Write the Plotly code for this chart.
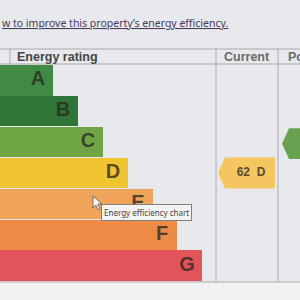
import plotly.graph_objects as go

# ---- data ----
ratings = ["A", "B", "C", "D", "E", "F", "G"]
band_lengths = [53, 78, 103, 128, 153, 177, 202]
band_colors = ["#3f8b46", "#2f7538", "#6fa545", "#f1c431", "#f0a35a", "#ec8a46", "#e1545a"]
current_value = 62
current_rating = "D"
potential_rating = "C"
header_labels = ["Energy rating", "Current", "Po"]
link_text = "w to improve this property\u2019s energy efficiency."
tooltip_text = "Energy efficiency chart"

# ---- geometry (axis units: x in px-like units, y in row units) ----
rows = list(range(len(ratings)))
row_px = 216 / 7.0
top_px = 65
def y_of_px(p):
    return (p - top_px) / row_px - 0.5

fig = go.Figure()

fig.add_trace(go.Bar(
    orientation="h", x=band_lengths, y=rows, base=0, width=0.985,
    marker=dict(color=band_colors, line=dict(width=0)),
    hoverinfo="skip", showlegend=False,
))
fig.add_trace(go.Scatter(
    x=[l - 15 for l in band_lengths], y=rows, mode="text", text=ratings,
    textfont=dict(family="Liberation Sans", size=20, color="rgba(45,40,35,0.78)", weight="bold"),
    hoverinfo="skip", showlegend=False,
))

# current arrow
cy = ratings.index(current_rating)
cx_tip, cx_l, cx_r = 218, 225, 275
fig.add_trace(go.Scatter(
    x=[cx_r, cx_l, cx_tip, cx_l, cx_r, cx_r],
    y=[cy - 0.5, cy - 0.5, cy, cy + 0.5, cy + 0.5, cy - 0.5],
    fill="toself", fillcolor="#f4c660", line=dict(width=0), mode="lines",
    hoverinfo="skip", showlegend=False,
))
fig.add_trace(go.Scatter(
    x=[(cx_l + cx_r) / 2 + 1], y=[cy], mode="text", text=[f"{current_value}  {current_rating}"],
    textfont=dict(family="Liberation Sans", size=12, color="#5b4a2c", weight="bold"),
    hoverinfo="skip", showlegend=False,
))

# potential arrow (cropped at the right edge)
py = ratings.index(potential_rating) + 0.05
px_tip, px_l, px_r = 282, 289, 340
fig.add_trace(go.Scatter(
    x=[px_r, px_l, px_tip, px_l, px_r, px_r],
    y=[py - 0.5, py - 0.5, py, py + 0.5, py + 0.5, py - 0.5],
    fill="toself", fillcolor="#69a24f", line=dict(width=0), mode="lines",
    hoverinfo="skip", showlegend=False,
))

line_col = "#a9a9ad"
y_head_top = y_of_px(49)
y_head_bot = y_of_px(64)
y_bottom = y_of_px(282)
shapes = [
    dict(type="line", x0=0, x1=300, y0=y_head_top, y1=y_head_top, line=dict(color=line_col, width=1)),
    dict(type="line", x0=0, x1=300, y0=y_head_bot, y1=y_head_bot, line=dict(color=line_col, width=1)),
    dict(type="line", x0=0, x1=300, y0=y_bottom, y1=y_bottom, line=dict(color=line_col, width=1)),
    dict(type="line", x0=10, x1=10, y0=y_head_top, y1=y_head_bot, line=dict(color=line_col, width=1)),
    dict(type="line", x0=216, x1=216, y0=y_head_top, y1=y_bottom, line=dict(color=line_col, width=1)),
    dict(type="line", x0=278, x1=278, y0=y_head_top, y1=y_bottom, line=dict(color=line_col, width=1)),
    dict(type="rect", x0=0, x1=300, y0=y_bottom, y1=y_of_px(300), fillcolor="#f2f2f4", line=dict(width=0), layer="below"),
]
# mouse cursor
cur = [(93, 196), (93, 208), (96, 205), (98, 210), (100, 209), (98, 204), (102, 204)]
path = "M " + " L ".join(f"{x},{y_of_px(y)}" for x, y in cur) + " Z"
shapes.append(dict(type="path", path=path, fillcolor="#f5f5f5", line=dict(color="#555", width=0.8)))

annotations = [
    dict(x=15, y=(y_head_top + y_head_bot) / 2, text=header_labels[0], showarrow=False, xanchor="left",
         font=dict(family="Liberation Sans", size=12.5, color="#454545", weight="bold")),
    dict(x=247, y=(y_head_top + y_head_bot) / 2, text=header_labels[1], showarrow=False, xanchor="center",
         font=dict(family="Liberation Sans", size=12.5, color="#6b6b6b", weight="bold")),
    dict(x=286, y=(y_head_top + y_head_bot) / 2, text=header_labels[2], showarrow=False, xanchor="left",
         font=dict(family="Liberation Sans", size=12.5, color="#6b6b6b", weight="bold")),
    dict(x=0, xref="paper", y=y_of_px(23), text=f"<u>{link_text}</u>", showarrow=False, xanchor="left",
         font=dict(family="Noto Sans", size=10.5, color="#463b58")),
    dict(x=101, y=y_of_px(212), text=tooltip_text, showarrow=False, xanchor="left",
         font=dict(family="Noto Sans", size=8, color="#444"),
         bgcolor="#f3f3f3", bordercolor="#808080", borderwidth=1, borderpad=2),
]

fig.update_layout(
    width=300, height=300, autosize=False,
    margin=dict(l=0, r=0, t=0, b=0),
    paper_bgcolor="#e8e9ed", plot_bgcolor="#e8e9ed",
    xaxis=dict(range=[0, 300], visible=False, fixedrange=True),
    yaxis=dict(range=[y_of_px(300), y_of_px(0)], visible=False, fixedrange=True),
    shapes=shapes, annotations=annotations, bargap=0,
)

fig.write_html("out.html")
